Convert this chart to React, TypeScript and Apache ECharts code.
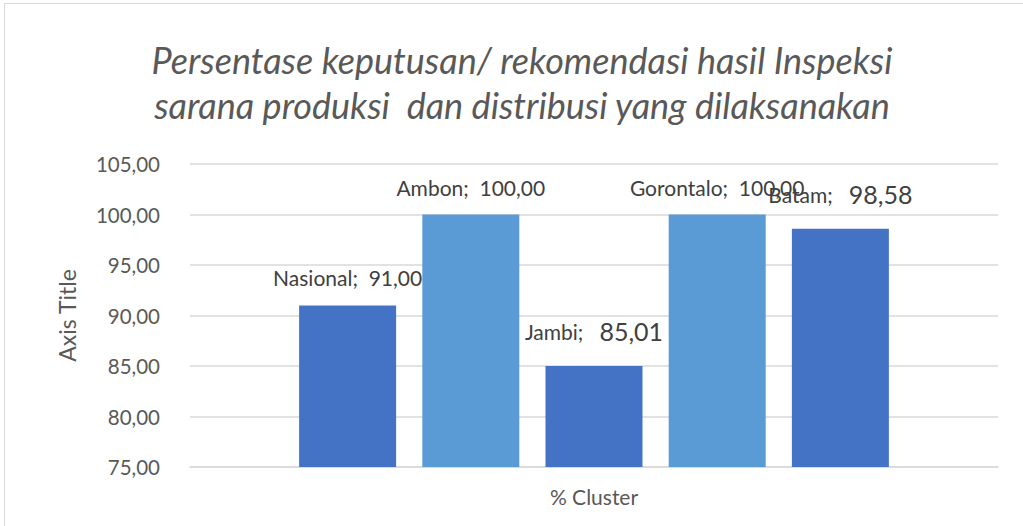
import React, { useEffect, useRef } from "react";
import * as echarts from "echarts";

const categories = ["% Cluster"];
const seriesNames = ["Nasional", "Ambon", "Jambi", "Gorontalo", "Batam"];
const seriesValues = [91.0, 100.0, 85.01, 100.0, 98.58];
const seriesColors = ["#4472C4", "#5B9BD5", "#4472C4", "#5B9BD5", "#4472C4"];
const bigValueLabel = [false, false, true, false, true];
const yTicks = { min: 75, max: 105, interval: 5 };
const titleLines = [
  "Persentase keputusan/ rekomendasi hasil Inspeksi",
  "sarana produksi  dan distribusi yang dilaksanakan",
];

const FONT = "Lato";
const fmt = (v: number) => v.toFixed(2).replace(".", ",");

export default function App() {
  const ref = useRef<HTMLDivElement>(null);
  useEffect(() => {
    document.body.style.margin = "0";
    const chart = echarts.init(ref.current!, null, { renderer: "svg" });
    chart.setOption({
      animation: false,
      backgroundColor: "#ffffff",
      textStyle: { fontFamily: FONT },
      graphic: [
        {
          type: "rect",
          shape: { x: 4.5, y: 3.5, width: 1030, height: 540 },
          style: { fill: "none", stroke: "#D9D9D9", lineWidth: 1 },
          silent: true,
        },
        {
          type: "text",
          x: 522,
          y: 37,
          style: {
            text: titleLines.join("\n"),
            fontFamily: FONT,
            fontStyle: "italic",
            fontSize: 36,
            lineHeight: 45,
            fill: "#595959",
            align: "center",
            verticalAlign: "top",
          },
        },
      ],
      grid: { left: 190, right: 25, top: 164, bottom: 59, containLabel: false },
      xAxis: {
        type: "category",
        data: categories,
        axisLine: { show: true, lineStyle: { color: "#D9D9D9", width: 1.5 } },
        axisTick: { show: false },
        axisLabel: { color: "#595959", fontSize: 21, margin: 19, fontFamily: FONT },
      },
      yAxis: {
        type: "value",
        min: yTicks.min,
        max: yTicks.max,
        interval: yTicks.interval,
        name: "Axis Title",
        nameLocation: "middle",
        nameGap: 112,
        nameTextStyle: { color: "#595959", fontSize: 23, fontFamily: FONT },
        axisLine: { show: false },
        axisTick: { show: false },
        axisLabel: {
          color: "#595959",
          fontSize: 20.5,
          margin: 30,
          fontFamily: FONT,
          formatter: (v: number) => fmt(v),
        },
        splitLine: { lineStyle: { color: "#D9D9D9", width: 1.5 } },
      },
      series: seriesNames.map((name, i) => ({
        name,
        type: "bar",
        data: [seriesValues[i]],
        barWidth: 97,
        barGap: "27%",
        itemStyle: { color: seriesColors[i] },
        label: {
          show: true,
          position: "top",
          distance: bigValueLabel[i] ? 22 : 17,
          formatter: () =>
            bigValueLabel[i]
              ? `{a|${name};   }{b|${fmt(seriesValues[i])}}`
              : `{a|${name};  ${fmt(seriesValues[i])}}`,
          rich: {
            a: { fontSize: 21, color: "#404040", fontFamily: FONT },
            b: { fontSize: 25, color: "#404040", fontFamily: FONT },
          },
        },
      })),
    });
    return () => chart.dispose();
  }, []);
  return (
    <div
      ref={ref}
      style={{ position: "fixed", left: 0, top: 0, width: 1023, height: 526 }}
    />
  );
}
